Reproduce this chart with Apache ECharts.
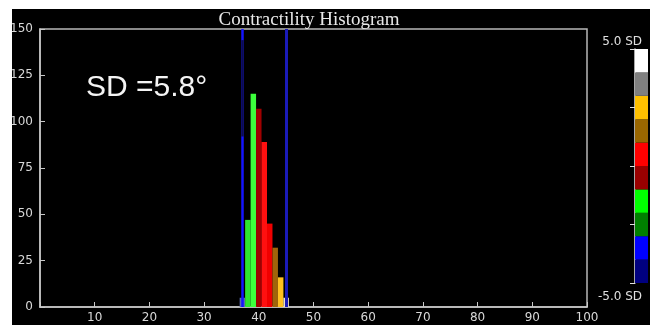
<!DOCTYPE html>
<html>
<head>
<meta charset="utf-8">
<script src="https://cdn.jsdelivr.net/npm/echarts@6/dist/echarts.min.js"></script>
<style>
  html, body { margin: 0; padding: 0; background: #fff; }
  #chart { position: absolute; left: 12px; top: 9px; width: 638px; height: 316px; background: #000; }
</style>
</head>
<body>
<div id="chart"></div>
<script>
// histogram bins (degrees) and counts
var bins = [37, 38, 39, 40, 41, 42, 43, 44, 45];
var counts = [5, 47, 115, 107, 89, 45, 32, 16, 5];
var binColors = ['#5a6ab0', '#2ee62e', '#3cff3c', '#a00000', '#ff1010', '#f00000', '#a0640a', '#ffc020', '#f0e0c0'];

// +/- SD marker lines
var sdLow = 36.9;
var sdHigh = 45.1;
var sdLowDim = [92, 144];

// colour scale, bottom (-5 SD) to top (+5 SD)
var scaleColors = ['#000080', '#0000ff', '#008000', '#00ff00', '#990000', '#ff0000', '#996600', '#ffc000', '#808080', '#ffffff'];

var chartDom = document.getElementById('chart');
var myChart = echarts.init(chartDom);
var option;

var scaleSeries = scaleColors.map(function (c) {
  return {
    type: 'bar',
    xAxisIndex: 1,
    yAxisIndex: 1,
    stack: 'scale',
    barWidth: '100%',
    silent: true,
    itemStyle: { color: c },
    data: [1]
  };
});

option = {
  backgroundColor: '#000',
  animation: false,
  title: [
    {
      text: 'Contractility Histogram',
      left: 292,
      top: -3,
      textAlign: 'center',
      textStyle: { color: '#e8e8e8', fontFamily: 'Liberation Serif', fontSize: 19, fontWeight: 'normal' }
    },
    {
      text: 'SD =5.8°',
      left: 69,
      top: 59,
      textStyle: { color: '#f4f4f4', fontFamily: 'Liberation Sans', fontSize: 30, fontWeight: 'normal' }
    }
  ],
  grid: [
    { left: 28, right: 63, top: 20, bottom: 18, outerBoundsMode: 'none', containLabel: false, show: true, borderColor: '#b8b8b8', borderWidth: 1.5 },
    { left: 623, width: 13, top: 40, height: 234, outerBoundsMode: 'none', containLabel: false }
  ],
  xAxis: [
    {
      type: 'value',
      min: 0,
      max: 100,
      interval: 10,
      axisLine: { lineStyle: { color: '#c8c8c8', width: 1.5 } },
      axisTick: { inside: true, length: 5, lineStyle: { color: '#c8c8c8' } },
      axisLabel: {
        color: '#d8d8d8', fontFamily: 'DejaVu Sans', fontSize: 12, margin: 5,
        formatter: function (v) { return v === 0 ? '' : v; }
      },
      splitLine: { show: false }
    },
    { type: 'category', gridIndex: 1, data: ['scale'], show: false }
  ],
  yAxis: [
    {
      type: 'value',
      min: 0,
      max: 150,
      interval: 25,
      axisLine: { show: true, lineStyle: { color: '#c8c8c8', width: 1.5 } },
      axisTick: { show: true, inside: true, length: 5, lineStyle: { color: '#c8c8c8' } },
      axisLabel: { color: '#d8d8d8', fontFamily: 'DejaVu Sans', fontSize: 12, margin: 7 },
      splitLine: { show: false }
    },
    {
      type: 'value',
      gridIndex: 1,
      min: 0,
      max: 10,
      interval: 2.5,
      axisLine: { show: true, lineStyle: { color: '#e0e0e0', width: 1.5 } },
      axisTick: { show: true, length: 5, lineStyle: { color: '#e0e0e0' } },
      splitLine: { show: false },
      axisLabel: {
        margin: -7,
        align: 'right',
        color: '#e0e0e0',
        fontFamily: 'DejaVu Sans',
        fontSize: 12,
        formatter: function (v) {
          if (v === 10) return '{t|5.0 SD}';
          if (v === 0) return '{b|-5.0 SD}';
          return '';
        },
        rich: {
          t: { padding: [0, 0, 14, 0], color: '#e0e0e0', fontFamily: 'DejaVu Sans', fontSize: 12 },
          b: { padding: [28, 0, 0, 0], color: '#e0e0e0', fontFamily: 'DejaVu Sans', fontSize: 12 }
        }
      }
    }
  ],
  series: [
    {
      name: 'histogram',
      type: 'custom',
      data: bins.map(function (b, i) { return [b, counts[i]]; }),
      renderItem: function (params, api) {
        var x = api.value(0);
        var y = api.value(1);
        var p0 = api.coord([x - 0.5, y]);
        var p1 = api.coord([x + 0.5, 0]);
        return {
          type: 'rect',
          shape: { x: p0[0], y: p0[1], width: p1[0] - p0[0], height: p1[1] - p0[1] },
          style: { fill: binColors[params.dataIndex] }
        };
      },
      markLine: {
        silent: true,
        symbol: 'none',
        label: { show: false },
        z: 5,
        data: [
          { xAxis: sdLow, lineStyle: { color: '#1414ff', width: 2.5, type: 'solid' } },
          { xAxis: sdHigh, lineStyle: { color: '#1a1ab8', width: 3, type: 'solid' } },
          [
            { coord: [sdLow, sdLowDim[0]], lineStyle: { color: '#0c0c50', width: 2.5, type: 'solid' } },
            { coord: [sdLow, sdLowDim[1]] }
          ]
        ]
      }
    }
  ].concat(scaleSeries)
};

option && myChart.setOption(option);
</script>
</body>
</html>
